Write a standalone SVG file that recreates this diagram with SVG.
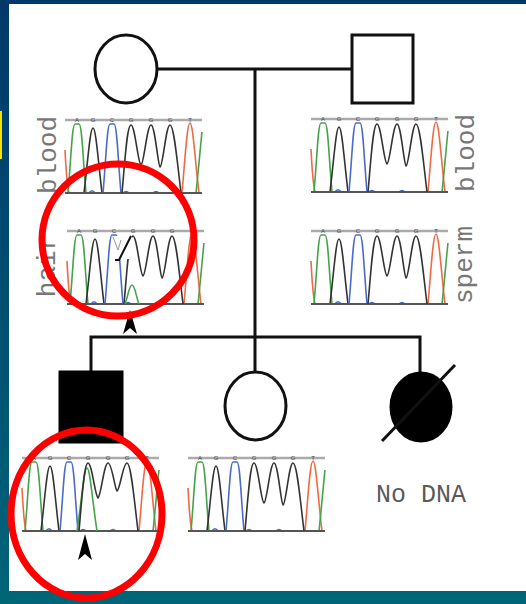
<svg xmlns="http://www.w3.org/2000/svg" xmlns:xlink="http://www.w3.org/1999/xlink" width="526" height="604" viewBox="0 0 526 604">
<style>
.ped{fill:none;stroke:#111;stroke-width:3}
.fill{fill:#000;stroke:#000;stroke-width:3}
.con{fill:none;stroke:#111;stroke-width:3}
.pk{fill:none;stroke-width:1.6;stroke-linejoin:round}
.g{stroke:#45a34b}.k{stroke:#333}.b{stroke:#4a6cc8}.r{stroke:#ee6a45}
.top{stroke:#aaa;stroke-width:2.5}
.bot{stroke:#555;stroke-width:2}
.seq{font-family:"Liberation Sans",Arial,sans-serif;font-size:6px;fill:#444;text-anchor:middle}
.lab{font-family:"Liberation Mono","Courier New",monospace;font-size:26px;fill:#777;text-anchor:middle}
.red{fill:none;stroke:#f00;stroke-width:7}
</style>
<defs>
<linearGradient id="bg" x1="0" y1="0" x2="0" y2="1">
<stop offset="0" stop-color="#00386a"/>
<stop offset="1" stop-color="#006578"/>
</linearGradient>
<g id="frame">
<line class="top" x1="0" y1="0" x2="137" y2="0"/>
<path class="pk r" d="M0,30 C1,50 2,65 4,73"/>
<path class="pk g" d="M3,73 C6,40 7,4 10,4 L14,4 C17,4 18,40 21,73"/>
<path class="pk k" d="M19,73 C23,40 25,8 28,8 C31,8 33,40 37,73"/>
<path class="pk b" d="M38,73 C41,40 42,4 45,4 L49,4 C52,4 53,40 56,73"/>
<path class="pk r" d="M117,73 C120,40 122,3 125,3 C128,3 130,40 134,73"/>
<path class="pk g" d="M131,73 C134,45 136,20 137,12"/>
<path class="pk b" d="M24,73 C26,70 28,70 30,73 M58,73 C60,71 62,71 64,73 M88,73 C90,71 92,71 94,73"/>
<line class="bot" x1="0" y1="73" x2="137" y2="73"/>
<text class="seq" x="12" y="2">A</text>
<text class="seq" x="28" y="2">G</text>
<text class="seq" x="47" y="2">C</text>
<text class="seq" x="66" y="2">G</text>
<text class="seq" x="86" y="2">G</text>
<text class="seq" x="105" y="2">G</text>
<text class="seq" x="125" y="2">T</text>
</g>
<path id="ggg" class="pk k" d="M57,73 C60,40 62,5 66,5 C70,5 73,44 76,45 C79,44 82,5 86,5 C90,5 93,46 95,47 C98,46 101,5 105,5 C109,5 112,40 116,73"/>
</defs>

<rect x="0" y="0" width="526" height="604" fill="url(#bg)"/>
<rect x="9" y="4" width="517" height="587" fill="#fff"/>
<rect x="0" y="111" width="2" height="48" fill="#f2e400"/>

<g id="connectors">
<line class="con" x1="157" y1="69" x2="352" y2="69"/>
<line class="con" x1="255" y1="69" x2="255" y2="372"/>
<polyline class="con" points="91,372 91,337 420,337 420,372"/>
</g>

<g id="mother">
<ellipse class="ped" cx="126" cy="69" rx="31" ry="34"/>
</g>
<g id="father">
<rect class="ped" x="352" y="35" width="61" height="68"/>
</g>
<g id="son">
<rect class="fill" x="60" y="372" width="62" height="70"/>
</g>
<g id="daughter">
<ellipse class="ped" cx="255.5" cy="406" rx="30.5" ry="34"/>
</g>
<g id="deceased-daughter">
<ellipse class="fill" cx="421" cy="407" rx="30" ry="34"/>
<line x1="382" y1="441" x2="455" y2="365" stroke="#111" stroke-width="3"/>
</g>

<g id="mother-blood" transform="translate(65,120)">
<use xlink:href="#frame"/><use xlink:href="#ggg"/>
</g>
<g id="mother-hair" transform="translate(67,231)">
<use xlink:href="#frame"/><use xlink:href="#ggg"/>
<path class="pk g" d="M58,73 C61,66 62,54 65,54 C68,54 69,66 72,73"/>
<rect x="45" y="5" width="20" height="23" fill="#fff"/>
<path d="M46,6 L51,19 L54,9" fill="none" stroke="#999" stroke-width="1"/>
<path d="M48,29 L52,29 L64,5" fill="none" stroke="#111" stroke-width="2"/>
</g>
<g id="father-blood" transform="translate(311,119)">
<use xlink:href="#frame"/><use xlink:href="#ggg"/>
</g>
<g id="father-sperm" transform="translate(311,231)">
<use xlink:href="#frame"/><use xlink:href="#ggg"/>
</g>
<g id="son-seq" transform="translate(22,458)">
<use xlink:href="#frame"/>
<path class="pk g" d="M55,73 C60,40 62,10 65,10 C68,10 70,40 75,73"/>
<path class="pk k" d="M57,73 C60,40 62,5 66,5 C70,5 73,38 76,40 C79,38 82,5 86,5 C90,5 93,32 95,33 C98,32 101,5 105,5 C109,5 112,40 116,73"/>
</g>
<g id="daughter-seq" transform="translate(188,458)">
<use xlink:href="#frame"/><use xlink:href="#ggg"/>
</g>

<g id="labels">
<text class="lab" transform="translate(56,155) rotate(-90)">blood</text>
<text class="lab" transform="translate(55,266) rotate(-90)">hair</text>
<text class="lab" transform="translate(474,153) rotate(-90)">blood</text>
<text class="lab" transform="translate(472,265) rotate(-90)">sperm</text>
<text class="lab" x="376" y="502" style="text-anchor:start;font-size:25px;fill:#5a5a5a">No DNA</text>
</g>

<g id="arrows" fill="#000">
<polygon points="130,310 137,334 130,328 123,334"/>
<polygon points="85,534 92,560 85,554 78,560"/>
</g>

<g id="highlights">
<ellipse class="red" cx="118" cy="240" rx="76" ry="76"/>
<ellipse class="red" cx="86.5" cy="514" rx="75.5" ry="84"/>
</g>
</svg>
